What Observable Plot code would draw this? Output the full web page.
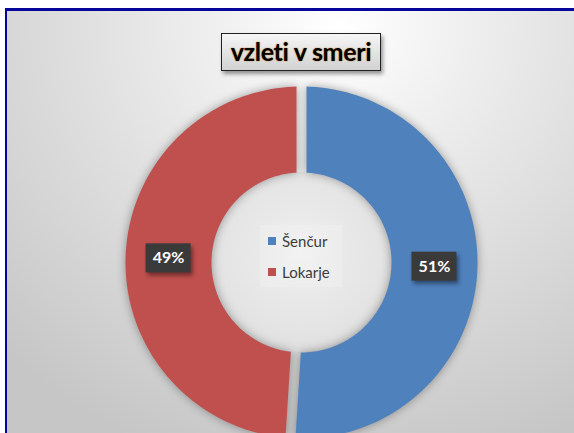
<!DOCTYPE html>
<html><head><meta charset="utf-8">
<script src="https://cdn.jsdelivr.net/npm/d3@7"></script>
<script src="https://cdn.jsdelivr.net/npm/@observablehq/plot@0.6"></script>
<style>
html,body{margin:0;padding:0;width:574px;height:433px;overflow:hidden;background:#fff;font-family:Lato,"Open Sans",sans-serif}
#frame{position:absolute;left:5px;top:8px;width:640px;height:480px;border-top:3px solid #06069c;border-left:2px solid #06069c;
 background:radial-gradient(ellipse 75% 95% at 52% 3%, #ffffff 0%, #f0f0f0 25%, #dcdcdc 60%, #c6c6c6 100%)}
#hole{position:absolute;left:211px;top:172px;width:180px;height:180px;border-radius:50%;
 background:radial-gradient(circle at 50% 45%, #efefef 0%, #e4e4e4 60%, #d2d2d2 100%)}
#chart{position:absolute;left:0;top:0}
#chart svg g[aria-label="line"]{filter:drop-shadow(0 0 5px rgba(0,0,0,0.35))}
#chart svg g[aria-label="rect"]{filter:drop-shadow(2px 3px 2px rgba(0,0,0,0.45))}
#title{position:absolute;left:221px;top:33px;width:158px;height:36px;border:1.5px solid #222;
 background:linear-gradient(#f6f6f6,#d2d2d2);box-shadow:2px 3px 4px rgba(0,0,0,0.4);
 font-weight:bold;font-size:25px;line-height:35px;text-align:center;color:#000;letter-spacing:-0.3px;
 text-shadow:0 0 1.5px #c07000}
#legend{position:absolute;left:260px;top:225px;width:82px;background:rgba(255,255,255,0.18)}
.row{height:31px;display:flex;align-items:center;font-size:15px;color:#3c3c3c}
.sw{width:8px;height:8px;margin-left:8px;margin-right:6px}
</style></head><body>
<div id="frame"></div>
<div id="hole"></div>
<div id="chart"></div>
<div id="title">vzleti v smeri</div>
<div id="legend"></div>
<script>
const categories = ["Šenčur", "Lokarje"];
const values = [51, 49];
const labels = ["51%", "49%"];
const colors = ["#4f81bd", "#c0504d"];

const W = 574, H = 433, cx = 301, cy = 262, R = 176, r0 = 90, gap = 5, N = 120;
const total = d3.sum(values);
const slices = [], labelData = [];
let cum = 0;
categories.forEach((key, i) => {
  const a0 = cum / total * 2 * Math.PI;
  const a1 = (cum + values[i]) / total * 2 * Math.PI;
  cum += values[i];
  const dO = Math.asin(gap / R), dI = Math.asin(gap / r0);
  for (let t = 0; t <= N; t++) {
    const a = (a0 + dO) + (a1 - a0 - 2 * dO) * t / N;
    slices.push({key, x: R * Math.sin(a), y: R * Math.cos(a)});
  }
  for (let t = N; t >= 0; t--) {
    const a = (a0 + dI) + (a1 - a0 - 2 * dI) * t / N;
    slices.push({key, x: r0 * Math.sin(a), y: r0 * Math.cos(a)});
  }
  const am = (a0 + a1) / 2, rm = (R + r0) / 2;
  labelData.push({key, label: labels[i], x: rm * Math.sin(am), y: rm * Math.cos(am)});
});

const chart = Plot.plot({
  width: W, height: H, margin: 0,
  x: {domain: [-cx, W - cx], axis: null},
  y: {domain: [-(H - cy), cy], axis: null},
  color: {domain: categories, range: colors},
  style: {background: "transparent", overflow: "visible"},
  marks: [
    Plot.line(slices, {x: "x", y: "y", z: "key", fill: "key", stroke: "none", curve: "linear-closed"}),
    Plot.rect(labelData, {x1: d => d.x - 22.5, x2: d => d.x + 22.5, y1: d => d.y - 14.5, y2: d => d.y + 14.5, fill: "#3a3a3a"}),
    Plot.text(labelData, {x: "x", y: "y", text: "label", fill: "white", fontSize: 16, fontWeight: "bold", fontFamily: "Lato"})
  ]
});
document.getElementById("chart").appendChild(chart);

const legend = document.getElementById("legend");
categories.forEach((c, i) => {
  const row = document.createElement("div");
  row.className = "row";
  const sw = document.createElement("span");
  sw.className = "sw";
  sw.style.background = colors[i];
  const tx = document.createElement("span");
  tx.textContent = c;
  row.appendChild(sw); row.appendChild(tx);
  legend.appendChild(row);
});
</script>
</body></html>
